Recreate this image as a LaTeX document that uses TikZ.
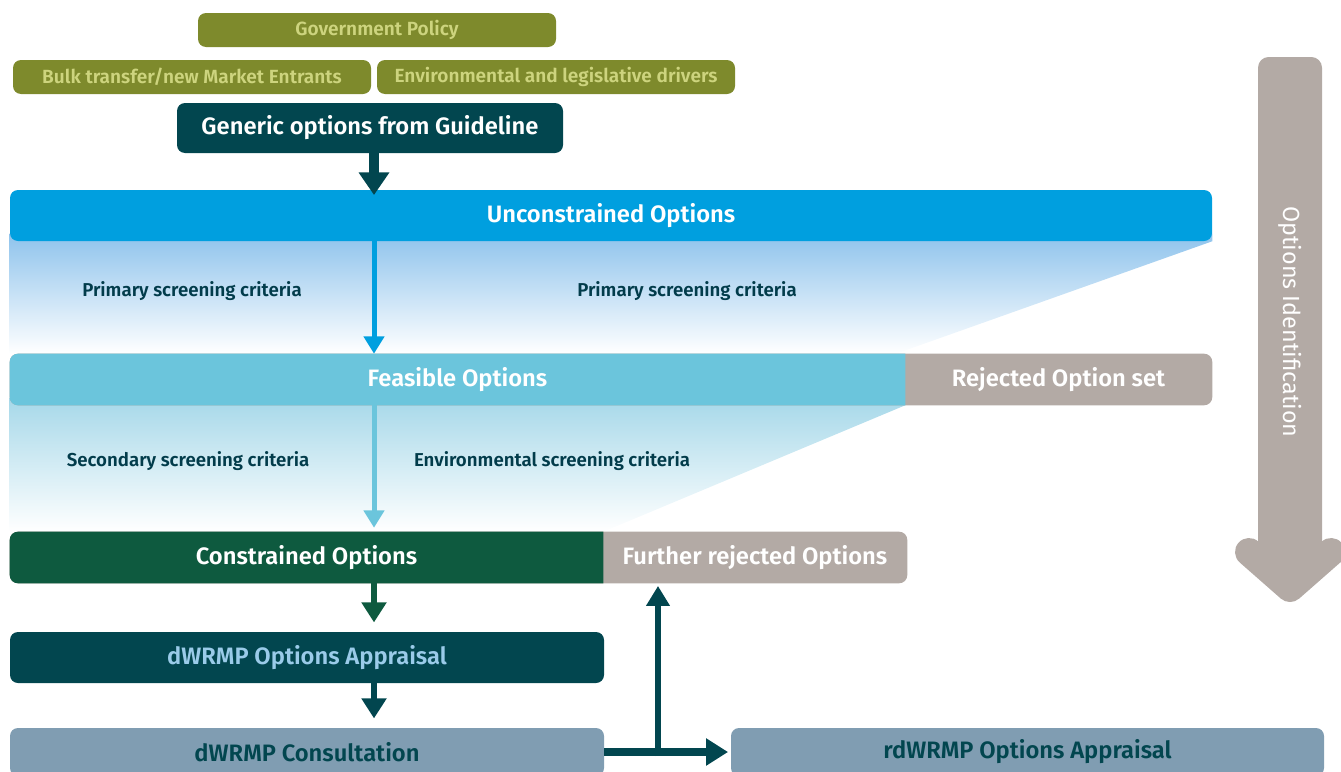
\documentclass[tikz,border=0pt]{standalone}
\usepackage{fontspec}
\setmainfont{Fira Sans}[BoldFont={Fira Sans SemiBold}]
\usetikzlibrary{arrows.meta,backgrounds}

\definecolor{olivebox}{HTML}{7E8A2C}
\definecolor{olivetext}{HTML}{CDD47E}
\definecolor{darkteal}{HTML}{02464F}
\definecolor{brightblue}{HTML}{009FDF}
\definecolor{gradblue}{HTML}{8EC3EC}
\definecolor{feascyan}{HTML}{6BC5DC}
\definecolor{gradcyan}{HTML}{A6D8E9}
\definecolor{rejgrey}{HTML}{B3AAA5}
\definecolor{consgreen}{HTML}{0E5A3F}
\definecolor{slate}{HTML}{809DB2}
\definecolor{apptext}{HTML}{9ACBE9}
\definecolor{critteal}{HTML}{023C4B}

\begin{document}
\begin{tikzpicture}[x=0.75pt,y=-0.75pt,
    drvbox/.style={rounded corners=6pt, inner sep=0pt, minimum width=268.5pt, minimum height=25.5pt,
      fill=olivebox, text=olivetext, font=\bfseries\fontsize{14.3}{16}\selectfont},
    bar/.style={inner sep=0pt, minimum height=38.25pt, text=white, font=\bfseries\fontsize{17.8}{20}\selectfont},
    crit/.style={inner sep=0pt, text=critteal, font=\bfseries\fontsize{14}{16}\selectfont}]
  \useasboundingbox (0,0) rectangle (1341,771);

  % drivers
  \node[drvbox] (gov) at (377,30) {Government Policy};
  \node[drvbox] (bulk) at (192,77) {Bulk transfer/new Market Entrants};
  \node[drvbox] (env) at (556,77) {Environmental and legislative drivers};
  \node[bar, fill=darkteal, rounded corners=6pt, minimum width=289.5pt, minimum height=37.5pt] (gen) at (370,128) {Generic options from Guideline};

  % screening bars
  \node[bar, fill=brightblue, rounded corners=6pt, minimum width=901.5pt] (uncon) at (611,215.5) {Unconstrained Options};
  \node[bar, minimum width=671.25pt] (feas) at (457.5,379.5) {Feasible Options};
  \node[bar, minimum width=230.25pt] (rej) at (1058.5,379.5) {Rejected Option set};
  \node[bar, minimum width=444.75pt] (cons) at (306.5,557.5) {Constrained Options};
  \node[bar, minimum width=228pt] (fur) at (755,557.5) {Further rejected Options};

  \node[crit] (prim1) at (192,291) {Primary screening criteria};
  \node[crit] (prim2) at (687,291) {Primary screening criteria};
  \node[crit] (sec) at (188,461) {Secondary screening criteria};
  \node[crit] (envcrit) at (552,461) {Environmental screening criteria};

  % appraisal
  \node[bar, fill=darkteal, text=apptext, rounded corners=6pt, minimum width=445.5pt] (dapp) at (307,657.5) {dWRMP Options Appraisal};
  \node[bar, fill=slate, text=darkteal, rounded corners=6pt, minimum width=445.5pt, minimum height=36pt] (dcons) at (307,752) {dWRMP Consultation};
  \node[bar, fill=slate, text=darkteal, rounded corners=6pt, minimum width=444.75pt, minimum height=36pt] (rdapp) at (1027.5,752) {rdWRMP Options Appraisal};

  \begin{scope}[on background layer]
    \shade[top color=gradblue, bottom color=white] ([yshift=6pt]uncon.south west) -- ([yshift=6pt]uncon.south east)
      -- (uncon.south east) -- ([xshift=-7pt]feas.north east) -- (feas.north west) -- cycle;
    \shade[top color=gradcyan, bottom color=white] ([yshift=6pt]feas.south west) -- ([yshift=6pt]feas.south east)
      -- (feas.south east) -- (cons.north east) -- (cons.north west) -- cycle;

    \fill[rejgrey, rounded corners=6pt] (feas.north west) rectangle (rej.south east);
    \begin{scope}
      \clip (feas.north west) rectangle (feas.south east);
      \fill[feascyan, rounded corners=6pt] (feas.north west) rectangle (rej.south east);
    \end{scope}
    \fill[rejgrey, rounded corners=6pt] (cons.north west) rectangle (fur.south east);
    \begin{scope}
      \clip (cons.north west) rectangle (cons.south east);
      \fill[consgreen, rounded corners=6pt] (cons.north west) rectangle (fur.south east);
    \end{scope}
  \end{scope}

  % flow arrows
  \coordinate (spine) at (374,0);
  \draw[darkteal, line width=7pt, -{Triangle[width=22pt,length=17pt]}] (gen.south -| spine) -- ([yshift=-4pt]uncon.north -| spine);
  \draw[brightblue, line width=3.75pt, -{Triangle[width=15pt,length=13pt]}] (uncon.south -| spine) -- (feas.north -| spine);
  \draw[feascyan, line width=3.75pt, -{Triangle[width=15pt,length=13pt]}] (feas.south -| spine) -- ([yshift=3pt]cons.north -| spine);
  \draw[consgreen, line width=4.5pt, -{Triangle[width=18pt,length=15pt]}] (cons.south -| spine) -- ([yshift=7pt]dapp.north -| spine);
  \draw[darkteal, line width=4.5pt, -{Triangle[width=18pt,length=15pt]}] (dapp.south -| spine) -- ([yshift=7pt]dcons.north -| spine);

  \coordinate (split) at (658,752);
  \draw[darkteal, line width=6pt, -{Triangle[width=19.5pt,length=16.5pt]}] (dcons.east) -- ([xshift=-2pt]rdapp.west);
  \draw[darkteal, line width=5pt, -{Triangle[width=17pt,length=15pt]}] ([yshift=-3pt]split) -- ([yshift=-2pt]split |- fur.south);

  % options identification arrow
  \fill[rejgrey, rounded corners=8pt] (1258,57) rectangle (1322,575);
  \draw[rejgrey, line width=21pt, line cap=round, line join=round] (1249,552) -- (1290,588) -- (1331,552);
  \node[rotate=-90, text=white, font=\fontsize{17.5}{20}\selectfont] (ident) at (1290,322) {Options Identification};
\end{tikzpicture}
\end{document}
